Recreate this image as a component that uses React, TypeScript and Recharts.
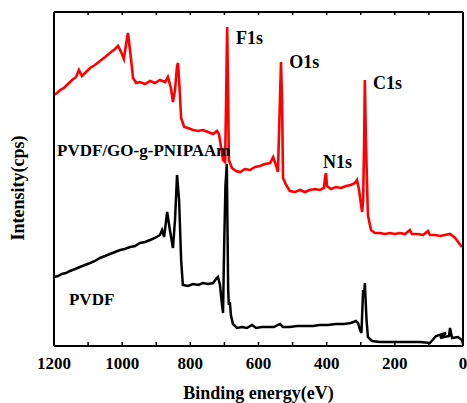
import React from 'react';
import { LineChart, Line, XAxis, YAxis, ReferenceDot } from 'recharts';

// Binding energy (eV) / intensity (arb. units)
const pvdfGoEnergy = [1200,1191,1182,1171,1159,1147,1135,1127,1118,1106,1094,1080,1065,1050,1036,1021,1012,1003,995,989,983,977,968,959,948,933,918,904,889,874,866,857,851,845,839,836,833,827,818,807,792,777,763,748,733,722,716,710,704,698,695,692,689,687,678,666,654,640,625,610,596,581,566,557,549,543,537,534,531,528,519,508,493,478,464,449,434,420,408,405,402,399,387,373,358,343,329,317,311,305,299,296,293,290,288,285,279,270,258,244,229,214,200,185,170,156,150,132,117,103,97,82,67,53,38,23,12,3];
const pvdfGoIntensity = [251,253,256,258,262,266,269,276,270,274,278,281,285,289,293,297,300,294,287,301,313,296,268,263,264,262,265,263,266,264,269,258,244,256,280,283,266,228,219,218,216,215,216,214,212,215,212,199,186,184,246,319,246,186,178,175,174,177,176,179,180,182,183,189,181,174,246,284,246,168,161,155,154,156,154,156,157,156,158,168,173,160,157,159,158,160,161,163,166,156,141,134,146,206,266,206,131,116,113,113,112,113,112,113,112,116,112,112,111,115,111,111,110,111,112,108,103,99];

const pvdfEnergy = [1200,1188,1177,1165,1153,1138,1124,1109,1094,1080,1065,1050,1036,1021,1006,992,977,962,948,933,918,904,889,883,877,868,860,851,845,839,833,827,822,807,792,777,763,748,733,725,719,713,707,704,701,697,693,689,687,684,681,675,663,648,634,619,607,590,572,555,537,528,508,487,464,440,420,396,373,349,329,314,308,302,298,293,290,288,283,279,267,244,214,185,156,126,97,79,50,67,41,38,32,15,3,0];
const pvdfIntensity = [69,70,72,73,75,77,79,81,83,85,88,90,92,94,96,97,99,100,103,104,106,108,111,116,109,134,116,98,126,171,146,86,61,60,62,61,63,62,63,67,69,61,41,33,96,160,182,56,41,44,31,22,18,19,18,21,18,19,19,19,22,19,19,20,20,20,21,21,22,22,23,25,23,16,13,56,51,63,26,9,5,4,4,4,4,4,3,10,13,8,10,18,8,9,6,2];

const majorTicks = [0,100,200,300,400,500,600,700,800,900,1000,1100,1200];

const peakLabels = ['F1s','O1s','C1s','N1s'];
const peakLabelEnergy = [666,510,264,411];
const peakLabelIntensity = [302,278,257,178];

const seriesLabels = ['PVDF/GO-g-PNIPAAm','PVDF'];
const seriesLabelEnergy = [1191,1156];
const seriesLabelIntensity = [190,41];

const toRows = (e: number[], v: number[]) => e.map((x, k) => ({ e: x, i: v[k] }));
const redData = toRows(pvdfGoEnergy, pvdfGoIntensity);
const blackData = toRows(pvdfEnergy, pvdfIntensity);

const FONT = '"Liberation Serif", "Times New Roman", serif';

const textLabel = (text: string, size: number) => (props: any) => {
  const vb = props.viewBox || {};
  return (
    <text x={vb.x} y={vb.y} fill="#000" fontFamily={FONT} fontWeight="bold" fontSize={size} textAnchor="start">
      {text}
    </text>
  );
};

const yTitle = (props: any) => {
  const vb = props.viewBox || {};
  const x = 24;
  const y = 188;
  return (
    <text x={x} y={y} transform={`rotate(-90, ${x}, ${y})`} fill="#000" fontFamily={FONT} fontWeight="bold" fontSize={18} textAnchor="middle">
      Intensity(cps)
    </text>
  );
};

const xTitle = (props: any) => {
  const vb = props.viewBox || {};
  return (
    <text x={vb.x + vb.width / 2} y={399} fill="#000" fontFamily={FONT} fontWeight="bold" fontSize={18} textAnchor="middle">
      Binding energy(eV)
    </text>
  );
};

export default function App() {
  return (
    <div style={{ position: 'absolute', left: 0, top: 0, width: 467, height: 403, background: '#fff', fontFamily: FONT }}>
      <LineChart width={467} height={403} margin={{ top: 11, right: 3, bottom: 0, left: 53 }}>
        <XAxis
          xAxisId="b"
          type="number"
          dataKey="e"
          domain={[0, 1200]}
          allowDataOverflow
          reversed
          ticks={majorTicks}
          interval={0}
          height={57}
          tickSize={-4}
          tickMargin={15}
          tickFormatter={(v: number) => (v % 200 === 0 ? String(v) : '')}
          axisLine={{ stroke: '#000', strokeWidth: 2 }}
          tickLine={{ stroke: '#000', strokeWidth: 1.5 }}
          tick={{ fill: '#000', fontSize: 17, fontWeight: 'bold', fontFamily: FONT }}
          label={{ content: xTitle }}
        />
        <XAxis
          xAxisId="t"
          orientation="top"
          type="number"
          dataKey="e"
          domain={[0, 1200]}
          allowDataOverflow
          reversed
          ticks={majorTicks}
          interval={0}
          height={1}
          tickSize={-3}
          tickMargin={0}
          tickFormatter={() => ''}
          axisLine={{ stroke: '#000', strokeWidth: 2 }}
          tickLine={{ stroke: '#000', strokeWidth: 1.5 }}
        />
        <YAxis
          yAxisId="l"
          type="number"
          domain={[0, 334]}
          allowDataOverflow
          width={1}
          tick={false}
          tickLine={false}
          axisLine={{ stroke: '#000', strokeWidth: 2 }}
          label={{ content: yTitle }}
        />
        <YAxis
          yAxisId="r"
          orientation="right"
          type="number"
          domain={[0, 334]}
          allowDataOverflow
          width={1}
          tick={false}
          tickLine={false}
          axisLine={{ stroke: '#000', strokeWidth: 2 }}
        />
        <Line
          xAxisId="b"
          yAxisId="l"
          data={blackData}
          dataKey="i"
          type="linear"
          stroke="#000"
          strokeWidth={2.5}
          dot={false}
          isAnimationActive={false}
        />
        <Line
          xAxisId="b"
          yAxisId="l"
          data={redData}
          dataKey="i"
          type="linear"
          stroke="#ff0000"
          strokeWidth={2.6}
          dot={false}
          isAnimationActive={false}
        />
        {peakLabels.map((t, k) => (
          <ReferenceDot
            key={t}
            xAxisId="b"
            yAxisId="l"
            x={peakLabelEnergy[k]}
            y={peakLabelIntensity[k]}
            r={0}
            stroke="none"
            fill="none"
            label={textLabel(t, 18)}
          />
        ))}
        {seriesLabels.map((t, k) => (
          <ReferenceDot
            key={t}
            xAxisId="b"
            yAxisId="l"
            x={seriesLabelEnergy[k]}
            y={seriesLabelIntensity[k]}
            r={0}
            stroke="none"
            fill="none"
            label={textLabel(t, 17)}
          />
        ))}
      </LineChart>
    </div>
  );
}
